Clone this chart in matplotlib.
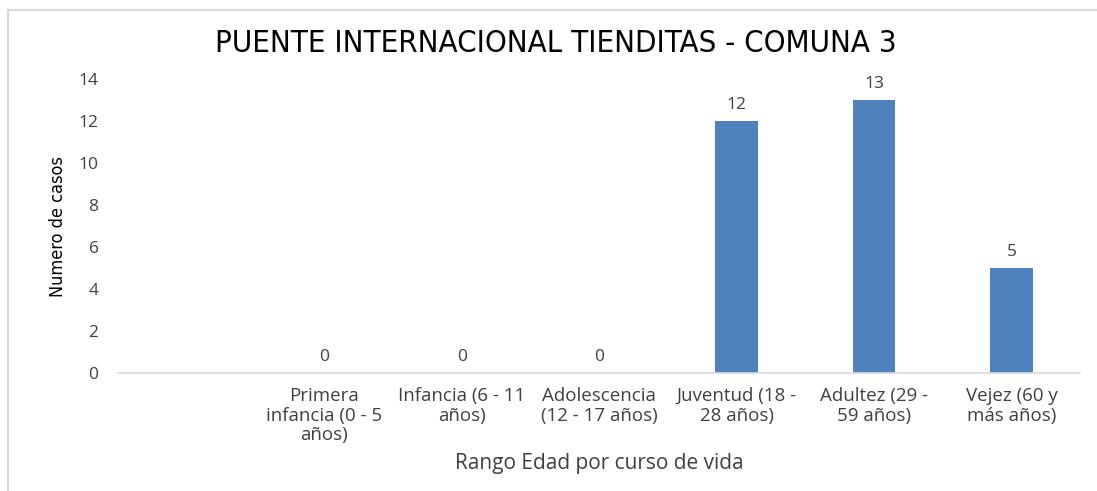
import matplotlib.pyplot as plt
from matplotlib.patches import Rectangle

categories = ['', 'Primera\ninfancia (0 - 5\naños)', 'Infancia (6 - 11\naños)',
              'Adolescencia\n(12 - 17 años)', 'Juventud (18 -\n28 años)',
              'Adultez (29 -\n59 años)', 'Vejez (60 y\nmás años)']
casos = [None, 0, 0, 0, 12, 13, 5]
yticks = [0, 2, 4, 6, 8, 10, 12, 14]

plt.rcParams['font.family'] = ['Open Sans', 'DejaVu Sans']
txt = '#404040'
narrow = dict(family=['DejaVu Sans'], stretch='condensed')

fig = plt.figure(figsize=(10.97, 4.91), dpi=100)
ax = fig.add_axes([0.1076, 0.240, 0.877, 0.599])

x = list(range(len(categories)))
for xi, v in zip(x, casos):
    if v is None:
        continue
    ax.bar(xi, v, width=0.31, color='#4F81BD', zorder=2)
    ax.text(xi, v + 0.4, str(v), ha='center', va='bottom', fontsize=12.5, color=txt)

ax.set_xlim(-0.5, len(categories) - 0.5)
ax.set_ylim(0, 14)
ax.set_yticks(yticks)
ax.set_xticks(x)
ax.set_xticklabels(categories, fontsize=13.5, color=txt, linespacing=1.12)
ax.tick_params(axis='both', length=0, colors=txt)
ax.tick_params(axis='y', labelsize=12.5, pad=14)
ax.tick_params(axis='x', pad=10)
for s in ['top', 'right', 'left']:
    ax.spines[s].set_visible(False)
ax.spines['bottom'].set_color('#d9d9d9')
ax.spines['bottom'].set_linewidth(1.2)

ax.set_xlabel('Rango Edad por curso de vida', fontsize=15, color=txt, labelpad=6)
ax.set_ylabel('Numero de casos', fontsize=13, color='black', labelpad=8, **narrow)
fig.text(0.507, 0.912, 'PUENTE INTERNACIONAL TIENDITAS - COMUNA 3', ha='center',
         va='center', fontsize=22.3, color='black', **narrow)

fig.patches.append(Rectangle((8 / 1097, -0.1), 1.2, 1.1 - 10 / 491,
                             transform=fig.transFigure, fill=False,
                             edgecolor='#d9d9d9', linewidth=1.5))

plt.savefig('out.png', dpi=100)
